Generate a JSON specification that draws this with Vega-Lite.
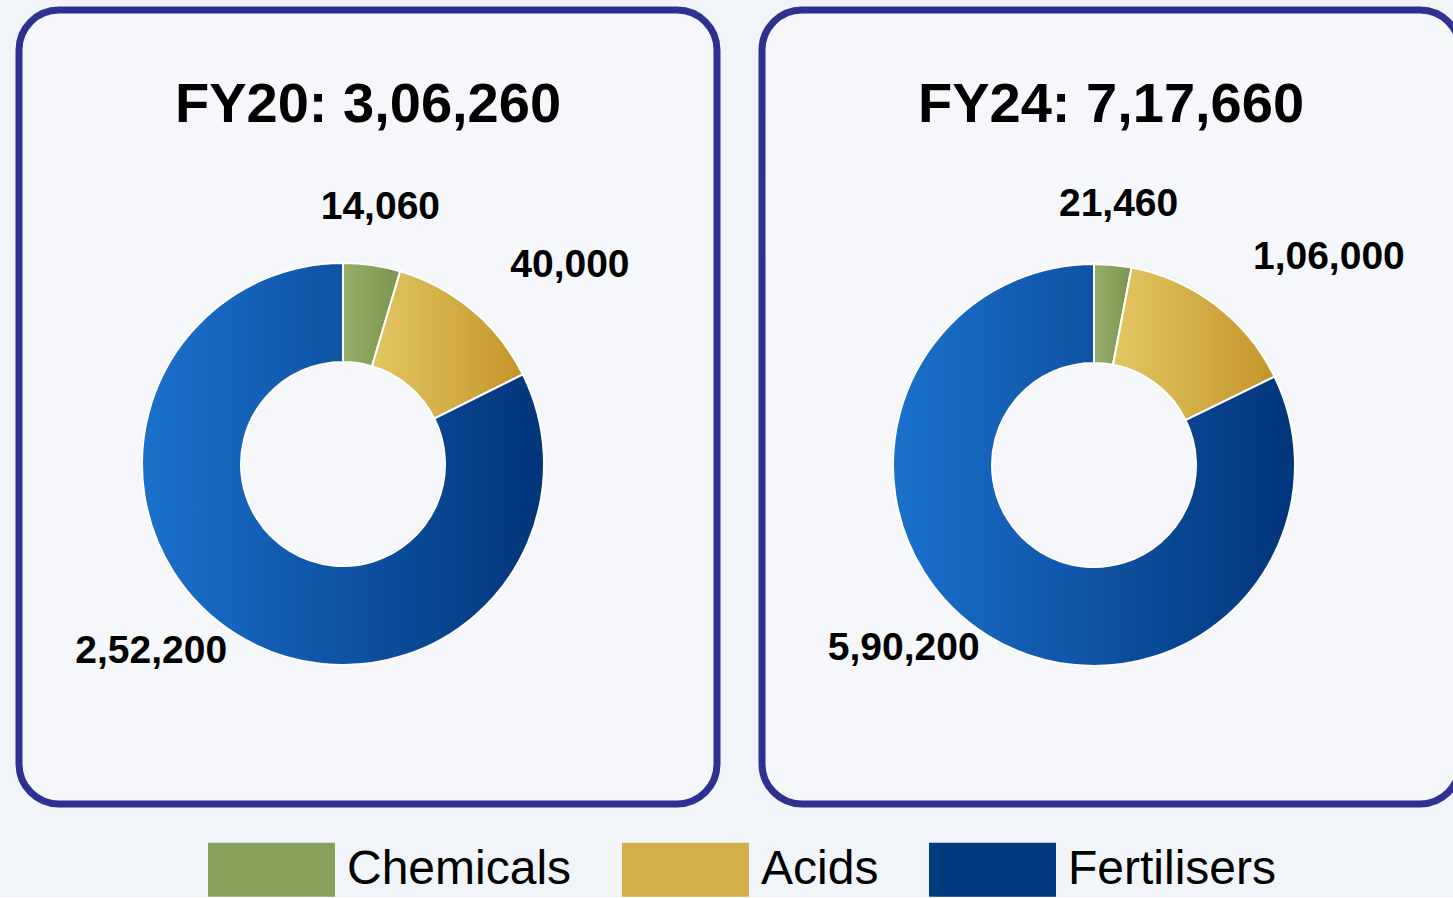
{
  "$schema": "https://vega.github.io/schema/vega-lite/v6.json",
  "background": "#f1f4f9",
  "padding": {"left": 15, "top": 6, "right": 0, "bottom": 0},
  "autosize": {"type": "pad"},
  "datasets": {
    "fy20": [
      {"cat": "Chemicals", "ord": 1, "value": 14060, "label": "14,060"},
      {"cat": "Acids", "ord": 2, "value": 40000, "label": "40,000"},
      {"cat": "Fertilisers", "ord": 3, "value": 252200, "label": "2,52,200"}
    ],
    "fy24": [
      {"cat": "Chemicals", "ord": 1, "value": 21460, "label": "21,460"},
      {"cat": "Acids", "ord": 2, "value": 106000, "label": "1,06,000"},
      {"cat": "Fertilisers", "ord": 3, "value": 590200, "label": "5,90,200"}
    ]
  },
  "spacing": 37,
  "resolve": {"scale": {"theta": "independent", "color": "shared"}, "legend": {"color": "shared"}},
  "hconcat": [
    {
      "width": 698,
      "height": 794,
      "view": {"stroke": "#2e3190", "strokeWidth": 7, "cornerRadius": 40, "fill": "#f5f7fb"},
      "data": {"name": "fy20"},
      "title": {"text": "FY20: 3,06,260", "offset": -168, "baseline": "alphabetic", "fontSize": 56, "font": "Liberation Sans", "fontWeight": "bold", "color": "#000000", "anchor": "middle", "frame": "group"},
      "encoding": {
        "theta": {"field": "value", "type": "quantitative", "stack": true},
        "order": {"field": "ord", "type": "quantitative"}
      },
      "layer": [
        {
          "mark": {"type": "arc", "outerRadius": 201, "innerRadius": 102, "stroke": "#ffffff", "strokeWidth": 2, "x": 324, "y": 454},
          "encoding": {
            "color": {
              "field": "cat", "type": "nominal",
              "scale": {"domain": ["Chemicals", "Acids", "Fertilisers"], "range": ["#87a05a", "#d4b04a", "#023a80"]},
              "legend": {"orient": "none", "legendX": 189, "legendY": 796, "direction": "horizontal", "title": null, "symbolType": "M-1,-0.425H1V0.425H-1Z", "symbolSize": 16129, "symbolStrokeWidth": 0, "symbolOpacity": 1, "labelFont": "Liberation Sans", "labelFontSize": 48, "labelColor": "#000000", "labelOffset": 12, "columnPadding": 50, "labelLimit": 400, "padding": 0},
              "condition": [
                {"test": "datum.cat == 'Chemicals'", "value": {"gradient": "linear", "x1": 0, "x2": 1, "y1": 0, "y2": 0, "stops": [{"offset": 0, "color": "#96af68"}, {"offset": 1, "color": "#7a9350"}]}},
                {"test": "datum.cat == 'Acids'", "value": {"gradient": "linear", "x1": 0, "x2": 1, "y1": 0, "y2": 0, "stops": [{"offset": 0, "color": "#e3c662"}, {"offset": 1, "color": "#c3952a"}]}},
                {"test": "datum.cat == 'Fertilisers'", "value": {"gradient": "linear", "x1": 0, "x2": 1, "y1": 0, "y2": 0, "stops": [{"offset": 0, "color": "#1b71cd"}, {"offset": 1, "color": "#02357a"}]}}
              ]
            }
          }
        },
        {
          "mark": {"type": "text", "font": "Liberation Sans", "fontWeight": "bold", "fontSize": 39, "color": "#000000", "baseline": "middle", "align": {"expr": "datum.cat == 'Acids' ? 'left' : datum.cat == 'Fertilisers' ? 'right' : 'center'"}, "radius": {"expr": "datum.cat == 'Fertilisers' ? 220 : 260"}, "x": 324, "y": 454},
          "encoding": {
            "text": {"field": "label", "type": "nominal"}
          }
        }
      ]
    },
    {
      "width": 698,
      "height": 794,
      "view": {"stroke": "#2e3190", "strokeWidth": 7, "cornerRadius": 40, "fill": "#f5f7fb"},
      "data": {"name": "fy24"},
      "title": {"text": "FY24: 7,17,660", "offset": -168, "baseline": "alphabetic", "fontSize": 56, "font": "Liberation Sans", "fontWeight": "bold", "color": "#000000", "anchor": "middle", "frame": "group"},
      "encoding": {
        "theta": {"field": "value", "type": "quantitative", "stack": true},
        "order": {"field": "ord", "type": "quantitative"}
      },
      "layer": [
        {
          "mark": {"type": "arc", "outerRadius": 201, "innerRadius": 102, "stroke": "#ffffff", "strokeWidth": 2, "x": 332, "y": 455},
          "encoding": {
            "color": {
              "field": "cat", "type": "nominal",
              "scale": {"domain": ["Chemicals", "Acids", "Fertilisers"], "range": ["#87a05a", "#d4b04a", "#023a80"]},
              "legend": {"orient": "none", "legendX": 189, "legendY": 796, "direction": "horizontal", "title": null, "symbolType": "M-1,-0.425H1V0.425H-1Z", "symbolSize": 16129, "symbolStrokeWidth": 0, "symbolOpacity": 1, "labelFont": "Liberation Sans", "labelFontSize": 48, "labelColor": "#000000", "labelOffset": 12, "columnPadding": 50, "labelLimit": 400, "padding": 0},
              "condition": [
                {"test": "datum.cat == 'Chemicals'", "value": {"gradient": "linear", "x1": 0, "x2": 1, "y1": 0, "y2": 0, "stops": [{"offset": 0, "color": "#96af68"}, {"offset": 1, "color": "#7a9350"}]}},
                {"test": "datum.cat == 'Acids'", "value": {"gradient": "linear", "x1": 0, "x2": 1, "y1": 0, "y2": 0, "stops": [{"offset": 0, "color": "#e3c662"}, {"offset": 1, "color": "#c3952a"}]}},
                {"test": "datum.cat == 'Fertilisers'", "value": {"gradient": "linear", "x1": 0, "x2": 1, "y1": 0, "y2": 0, "stops": [{"offset": 0, "color": "#1b71cd"}, {"offset": 1, "color": "#02357a"}]}}
              ]
            }
          }
        },
        {
          "mark": {"type": "text", "font": "Liberation Sans", "fontWeight": "bold", "fontSize": 39, "color": "#000000", "baseline": "middle", "align": {"expr": "datum.cat == 'Acids' ? 'left' : datum.cat == 'Fertilisers' ? 'right' : 'center'"}, "radius": {"expr": "datum.cat == 'Fertilisers' ? 216 : 262"}, "x": 332, "y": 455},
          "encoding": {
            "text": {"field": "label", "type": "nominal"}
          }
        }
      ]
    }
  ]
}
